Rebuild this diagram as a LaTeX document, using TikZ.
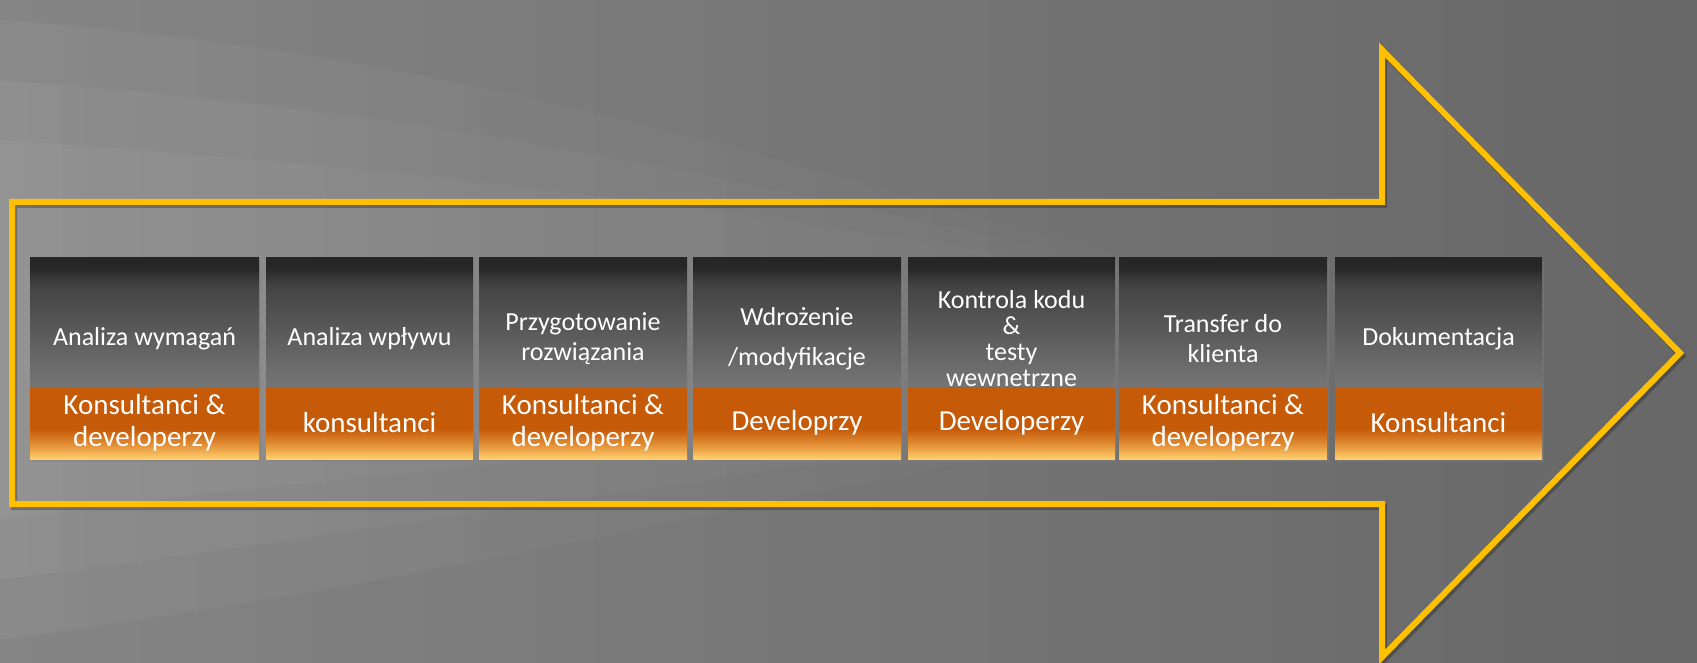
\documentclass[tikz,border=0pt]{standalone}
\usepackage{fontspec}
\setmainfont{Carlito}
\usetikzlibrary{positioning,shadows,fadings}
\definecolor{arrow-yellow}{HTML}{FFC000}
\definecolor{back-light}{HTML}{858585}
\definecolor{back-dark}{HTML}{676767}
\definecolor{top-black}{HTML}{262626}
\definecolor{top-dark}{HTML}{434343}
\definecolor{top-light}{HTML}{767676}
\definecolor{bot-orange}{HTML}{C55A08}
\definecolor{bot-amber}{HTML}{E08A32}
\definecolor{bot-yellow}{HTML}{FFCF6E}
\pgfdeclareverticalshading{steptopshade}{100bp}{color(0bp)=(top-light); color(25bp)=(top-light); color(64bp)=(top-dark); color(71bp)=(top-black); color(100bp)=(top-black)}
\pgfdeclareverticalshading{stepbotshade}{100bp}{color(0bp)=(bot-yellow); color(25bp)=(bot-yellow); color(36bp)=(bot-amber); color(46bp)=(bot-orange); color(100bp)=(bot-orange)}
\tikzfading[name=fanfade,left color=transparent!0,right color=transparent!100]
\newcommand{\proctop}{257}
\newcommand{\procmid}{387}
\tikzstyle{steptopstyle}=[shape=rectangle,shading=steptopshade,inner sep=0pt,outer sep=0pt,minimum height=130pt,anchor=north west,drop shadow={opacity=0.4,shadow xshift=2pt,shadow yshift=-3pt}]
\tikzstyle{stepbotstyle}=[shape=rectangle,shading=stepbotshade,inner sep=0pt,outer sep=0pt,minimum height=72pt,anchor=north west,drop shadow={opacity=0.4,shadow xshift=2pt,shadow yshift=-3pt}]
\tikzstyle{toptextstyle}=[text=white,align=center,font=\fontsize{26}{30}\selectfont]
\tikzstyle{bottextstyle}=[text=white,align=center,font=\fontsize{29}{32}\selectfont]
\tikzstyle{outlinestyle}=[line width=6pt,line join=miter]
\newcommand{\procstep}[5]{ \node [style=steptopstyle,minimum width=#3pt] (#1top) at (#2,\proctop) {}; \node [style=toptextstyle] (#1toplab) at ([yshift=-17pt]#1top.center) {#4}; \node [style=stepbotstyle,minimum width=#3pt] (#1bot) at (#2,\procmid) {}; \node [style=bottextstyle] (#1botlab) at (#1bot.center) {#5}; }

\begin{document}
\begin{tikzpicture}[x=1pt,y=-1pt]
% backdrop
\shade[left color=back-light,right color=back-dark] (0,0) rectangle (1697,662);
\foreach \spread in {0,60,120}
  \fill[white,opacity=0.045,path fading=fanfade] (0,20+\spread) .. controls (600,60+\spread) and (1000,250) .. (1450,330) -- (1450,390) .. controls (1000,430) and (600,560-\spread) .. (0,640-\spread) -- cycle;
% big arrow
\draw[style=outlinestyle,black,opacity=0.25,shift={(2,3)}] (12,202) -- (1382,202) -- (1382,50) -- (1680,353) -- (1382,657) -- (1382,504) -- (12,504) -- cycle;
\draw[style=outlinestyle,arrow-yellow] (12,202) -- (1382,202) -- (1382,50) -- (1680,353) -- (1382,657) -- (1382,504) -- (12,504) -- cycle;
% steps
\procstep{req}{30}{229}{Analiza wymagań}{Konsultanci \&\\developerzy} %
\procstep{impact}{266}{207}{Analiza wpływu}{konsultanci} %
\procstep{prep}{479}{208}{Przygotowanie\\rozwiązania}{Konsultanci \&\\developerzy} %
\procstep{impl}{693}{208}{Wdrożenie\\[10pt]/modyfikacje}{Developrzy} %
\procstep{review}{908}{207}{Kontrola kodu\\[-4pt]\&\\[-4pt]testy\\[-4pt]wewnetrzne}{Developerzy} %
\procstep{transfer}{1119}{208}{Transfer do\\klienta}{Konsultanci \&\\developerzy} %
\procstep{docs}{1335}{207}{Dokumentacja}{Konsultanci} %
\end{tikzpicture}
\end{document}
